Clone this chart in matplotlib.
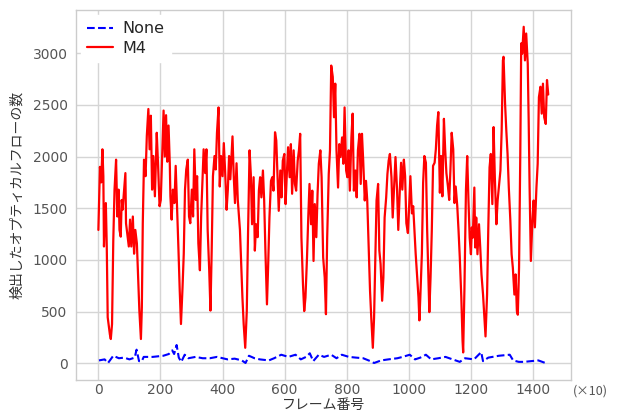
import matplotlib
matplotlib.use("Agg")
import matplotlib.pyplot as plt

# M4: frame number (x10) and detected optical flow count
m4_frames = [0, 2, 5, 9, 13, 16, 18, 21, 24, 27, 30, 34, 37, 40, 44, 48, 52, 57, 61, 65,
             68, 72, 75, 78, 83, 87, 89, 94, 98, 102, 106, 111, 115, 119, 124, 128, 132, 137, 140, 143,
             147, 152, 156, 161, 165, 169, 173, 177, 182, 188, 192, 197, 201, 210, 214, 218, 222, 226, 230, 232,
             236, 240, 245, 249, 253, 258, 262, 266, 271, 275, 279, 283, 288, 292, 296, 301, 305, 309, 314, 318,
             322, 327, 331, 335, 339, 344, 348, 352, 357, 361, 365, 369, 374, 378, 382, 387, 391, 395, 400, 404,
             408, 413, 417, 421, 425, 432, 436, 440, 445, 449, 456, 460, 464, 468, 473, 478, 482, 487, 491, 495,
             500, 504, 508, 513, 517, 521, 525, 530, 534, 538, 543, 547, 551, 556, 560, 564, 569, 573, 577, 581,
             586, 590, 594, 599, 603, 607, 611, 616, 620, 624, 629, 633, 637, 642, 646, 650, 654, 659, 663, 667,
             672, 676, 680, 685, 689, 693, 697, 702, 706, 710, 715, 719, 724, 729, 733, 737, 742, 746, 750, 755,
             759, 763, 767, 772, 776, 780, 785, 789, 793, 798, 802, 806, 810, 815, 819, 823, 828, 832, 836, 841,
             845, 849, 853, 858, 862, 866, 871, 875, 879, 884, 888, 892, 896, 901, 905, 909, 914, 918, 922, 927,
             931, 935, 939, 944, 948, 952, 957, 962, 966, 971, 975, 979, 984, 988, 992, 997, 1001, 1005, 1010, 1014,
             1018, 1022, 1027, 1031, 1034, 1037, 1042, 1046, 1050, 1055, 1059, 1063, 1066, 1070, 1074, 1078, 1083, 1087, 1091, 1095,
             1100, 1104, 1108, 1113, 1117, 1121, 1126, 1130, 1134, 1138, 1143, 1147, 1151, 1156, 1160, 1164, 1169, 1173, 1175, 1179,
             1184, 1188, 1192, 1196, 1200, 1203, 1206, 1211, 1214, 1217, 1221, 1226, 1230, 1234, 1239, 1243, 1247, 1252, 1256, 1260,
             1264, 1269, 1273, 1277, 1282, 1286, 1290, 1295, 1299, 1303, 1305, 1310, 1314, 1318, 1322, 1327, 1331, 1335, 1340, 1344,
             1348, 1351, 1355, 1359, 1362, 1365, 1370, 1374, 1378, 1383, 1386, 1389, 1393, 1398, 1402, 1406, 1411, 1415, 1419, 1424,
             1428, 1432, 1436, 1441, 1445, 1449]
m4_values = [1290, 1550, 1900, 1750, 2070, 1810, 1130, 1400, 1550, 1130, 445, 350, 280, 235, 380, 1190, 1680, 1970, 1420, 1680,
             1290, 1225, 1580, 1485, 1680, 1840, 1355, 1225, 1130, 1390, 1130, 1420, 1060, 1290, 1160, 835, 510, 235, 540, 1355,
             1970, 1810, 2200, 2460, 2070, 2395, 1680, 2005, 1615, 2230, 1940, 1520, 1580, 2445, 2000, 2400, 1950, 2300, 1935, 1615,
             1390, 1680, 1550, 1910, 1550, 1095, 705, 380, 730, 1060, 1680, 1875, 1970, 1420, 1355, 1680, 1420, 2070, 1580, 1810,
             1160, 900, 1420, 1740, 2070, 1840, 2070, 1290, 900, 510, 1095, 1810, 2005, 1875, 2230, 2475, 1710, 2005, 1810, 2130,
             1875, 1485, 1680, 2005, 1780, 2195, 1810, 1550, 1935, 1580, 1290, 960, 635, 380, 150, 505, 1250, 2060, 1830, 1345,
             1800, 1090, 1345, 1220, 1670, 1800, 1605, 1865, 1575, 1090, 570, 960, 1410, 1765, 1800, 1670, 2235, 2155, 1800, 1475,
             1865, 1605, 1960, 2025, 1540, 1830, 2090, 1800, 2120, 1640, 2060, 1735, 1670, 1960, 2060, 2220, 1220, 765, 505, 635,
             1025, 1410, 1735, 1345, 1670, 990, 1540, 1220, 1640, 1930, 2060, 1800, 1025, 830, 475, 1220, 1830, 2060, 2880, 2770,
             2380, 2705, 2060, 1700, 2120, 1995, 2185, 1930, 2475, 1865, 1800, 2060, 1670, 2185, 2415, 1670, 1865, 1605, 2060, 2220,
             1735, 2220, 1960, 1575, 1765, 1575, 1090, 700, 440, 150, 440, 1025, 1575, 1735, 1090, 960, 605, 830, 1410, 1605,
             1830, 1960, 2025, 1800, 1410, 1670, 1995, 1680, 1290, 1680, 1940, 1680, 1970, 1810, 1355, 1260, 1520, 1810, 1450, 1520,
             1290, 1060, 835, 640, 415, 640, 1060, 1745, 2005, 1940, 1290, 835, 495, 835, 1290, 1910, 1940, 2070, 2300, 2430,
             1650, 2005, 1615, 2365, 2070, 1840, 1710, 1580, 1875, 2230, 2070, 1550, 1710, 1520, 1290, 1030, 640, 220, 105, 705,
             1680, 2005, 1580, 1215, 1055, 1315, 1215, 1700, 1120, 1410, 1055, 1345, 1120, 860, 665, 470, 260, 665, 1315, 1895,
             2025, 1540, 2285, 1800, 1345, 1575, 1700, 1865, 2250, 2930, 2965, 2510, 2250, 2025, 1700, 1380, 1055, 925, 665, 860,
             505, 470, 925, 2025, 3095, 2995, 3255, 2930, 3190, 2900, 2350, 1700, 990, 1380, 1575, 1315, 1700, 1930, 2575, 2675,
             2415, 2705, 2380, 2315, 2740, 2600]

# None: baseline (no method)
none_frames = [2, 20, 31, 48, 66, 83, 100, 117, 123, 131, 140, 146, 175, 209, 227, 238, 244, 252, 259, 267,
               278, 290, 313, 336, 359, 382, 416, 439, 462, 474, 485, 503, 520, 549, 566, 589, 612, 635, 652, 669,
               681, 692, 710, 727, 750, 767, 784, 807, 830, 853, 876, 888, 911, 934, 963, 980, 1003, 1020, 1037, 1055,
               1072, 1095, 1118, 1141, 1164, 1181, 1210, 1233, 1239, 1256, 1290, 1325, 1336, 1354, 1371, 1394, 1417, 1440]
none_values = [28, 38, 3, 73, 49, 55, 38, 55, 132, 21, 21, 62, 62, 73, 90, 125, 90, 177, 55, 14,
               83, 49, 62, 49, 49, 62, 38, 45, 28, 3, 73, 49, 38, 28, 49, 83, 62, 83, 38, 62,
               97, 21, 83, 62, 83, 49, 83, 62, 55, 49, 21, 3, 28, 38, 49, 62, 83, 38, 55, 83,
               38, 49, 62, 38, 14, 49, 38, 108, 21, 55, 73, 83, 28, 14, 14, 21, 28, 3]

plt.style.use("seaborn-v0_8-whitegrid")
plt.rcParams["font.family"] = ["DejaVu Sans", "Noto Sans CJK JP"]

fig = plt.figure(figsize=(6.17, 4.16), dpi=100)
ax = fig.add_axes([0.123, 0.087, 0.802, 0.889])

ax.plot(none_frames, none_values, color="blue", linestyle="--", linewidth=1.5, label="None")
ax.plot(m4_frames, m4_values, color="red", linewidth=1.6, label="M4")

ax.grid(True, color="#d5d5d5", linewidth=1.0)
for sp in ax.spines.values():
    sp.set_visible(True)
    sp.set_color("#cccccc")
    sp.set_linewidth(1.0)

ax.tick_params(labelsize=10, colors="#555555", length=0)
ax.tick_params(axis="x", pad=2)
ax.tick_params(axis="y", pad=6)
ax.set_xlabel("フレーム番号", fontsize=10, color="#333333", labelpad=1,
              family=["Noto Sans CJK JP"])
ax.set_ylabel("検出したオプティカルフローの数", fontsize=10, color="#333333", labelpad=6,
              family=["Noto Sans CJK JP"])
ax.text(1.005, -0.03, "(×10)", transform=ax.transAxes, fontsize=9, color="#555555",
        ha="left", va="center", family=["Noto Sans CJK JP", "DejaVu Sans"])

leg = ax.legend(loc="upper left", fontsize=11.5, frameon=True, framealpha=1.0,
                facecolor="white", edgecolor="white", borderaxespad=0.3,
                handlelength=1.6, handletextpad=0.6, labelspacing=0.3)

fig.savefig("out.png", dpi=100)
